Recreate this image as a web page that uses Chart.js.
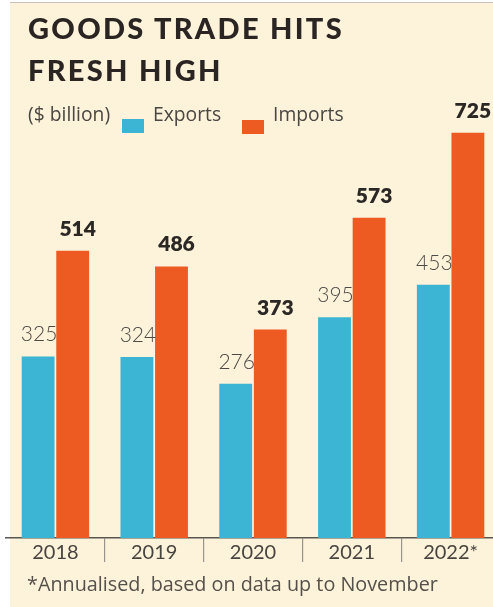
<!DOCTYPE html>
<html>
<head>
<meta charset="utf-8">
<script src="https://cdn.jsdelivr.net/npm/chart.js@4/dist/chart.umd.min.js"></script>
<style>
  html, body { margin: 0; padding: 0; }
  body { width: 493px; height: 607px; overflow: hidden; position: relative; background: #fff; font-family: Lato, sans-serif; }
  #panel { position: absolute; left: 10px; top: 2px; right: 0; bottom: 0; background: #fdf2da; border-top: 1px solid #c9c4bb; }
  #wrap { position: absolute; left: 0; top: 0; width: 500px; height: 607px; }
  .txt { position: absolute; white-space: nowrap; }
  #title { left: 28px; top: 7px; font-size: 29px; line-height: 42px; font-weight: 900; letter-spacing: 2.3px; color: #2a2522; }
  .leg { top: 103px; font-family: "Open Sans", sans-serif; font-size: 19.3px; line-height: 22px; color: #4a4641; }
  .box { position: absolute; width: 22px; height: 14px; }
  #note { left: 27px; top: 573px; font-family: "Open Sans", sans-serif; font-size: 19.8px; line-height: 22px; color: #55504a; }
</style>
</head>
<body>
<div id="panel"></div>
<div id="wrap"><canvas id="chart" width="500" height="607"></canvas></div>
<div class="txt" id="title">GOODS TRADE HITS<br>FRESH HIGH</div>
<div class="txt leg" style="left:28px">($ billion)</div>
<div class="box" style="left:122px; top:119px; background:#3bb5d3"></div>
<div class="txt leg" style="left:153px">Exports</div>
<div class="box" style="left:242px; top:120px; background:#ee5b22"></div>
<div class="txt leg" style="left:273px">Imports</div>
<div class="txt" id="note">*Annualised, based on data up to November</div>
<script>
const years = ["2018", "2019", "2020", "2021", "2022*"];
const exportsData = [325, 324, 276, 395, 453];
const importsData = [514, 486, 373, 573, 725];

// value labels above each bar
const barLabels = {
  id: "barLabels",
  afterDatasetsDraw(chart) {
    const ctx = chart.ctx;
    ctx.save();
    ctx.textAlign = "center";
    ctx.textBaseline = "alphabetic";
    chart.data.datasets.forEach((ds, i) => {
      const meta = chart.getDatasetMeta(i);
      ctx.font = i === 0 ? "300 21px Lato" : "800 21px Lato";
      ctx.fillStyle = i === 0 ? "#4d4a46" : "#2a2724";
      meta.data.forEach((bar, j) => {
        ctx.fillText(String(ds.data[j]), bar.x + (i === 0 ? 1 : 5), bar.y - 15);
      });
    });
    ctx.restore();
  }
};

new Chart(document.getElementById("chart"), {
  type: "bar",
  data: {
    labels: years,
    datasets: [
      { label: "Exports", data: exportsData, backgroundColor: "#3bb5d3" },
      { label: "Imports", data: importsData, backgroundColor: "#ee5b22" }
    ]
  },
  options: {
    responsive: false,
    animation: false,
    events: [],
    layout: { padding: { left: 6, right: 0, top: 120, bottom: 39 } },
    datasets: { bar: { categoryPercentage: 0.7, barPercentage: 0.95 } },
    plugins: { legend: { display: false }, tooltip: { enabled: false } },
    scales: {
      y: { display: false, min: 0, max: 748 },
      x: {
        afterFit(scale) { scale.height = 30; },
        border: { display: true, color: "#5a5650", width: 1.5 },
        grid: {
          offset: true,
          drawOnChartArea: false,
          drawTicks: true,
          tickLength: 24,
          lineWidth: 1.2,
          color: (c) => (c.index === undefined || c.index === 0) ? "rgba(0,0,0,0)" : "#9a958c"
        },
        ticks: {
          padding: -21,
          color: "#48443f",
          font: { family: "Lato", size: 20 }
        }
      }
    }
  },
  plugins: [barLabels]
});
</script>
</body>
</html>
